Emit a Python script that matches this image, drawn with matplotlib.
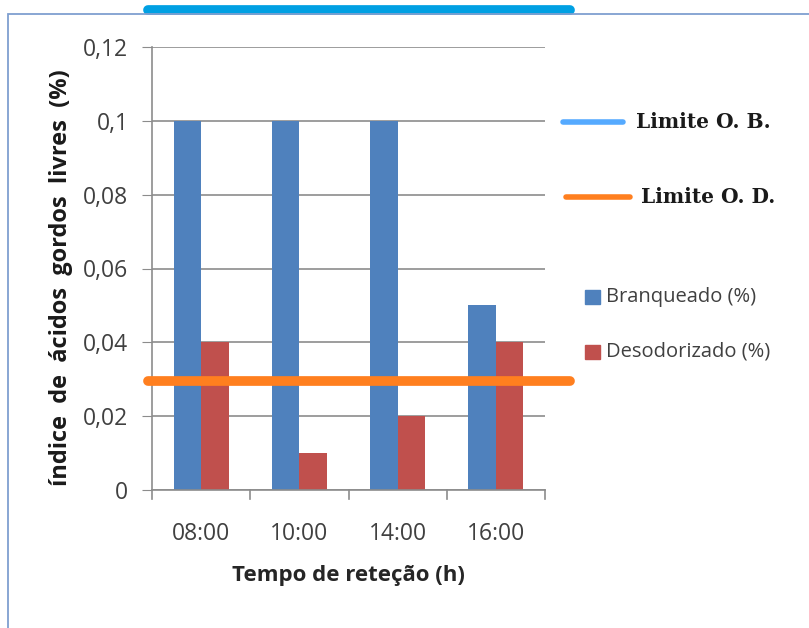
import matplotlib
matplotlib.use("Agg")
import matplotlib.pyplot as plt
from matplotlib.lines import Line2D
from matplotlib.patches import Rectangle

# Data
categories = ["08:00", "10:00", "14:00", "16:00"]
branqueado = [0.10, 0.10, 0.10, 0.05]
desodorizado = [0.04, 0.01, 0.02, 0.04]
limite_ob = 0.13
limite_od = 0.0295
y_ticks = [0, 0.02, 0.04, 0.06, 0.08, 0.10, 0.12]
y_tick_labels = ["0", "0,02", "0,04", "0,06", "0,08", "0,1", "0,12"]

plt.rcParams["font.family"] = ["Open Sans", "DejaVu Sans"]
text_gray = "#404040"

fig = plt.figure(figsize=(8.09, 6.28), dpi=100)
ax = fig.add_axes([152 / 809, 1 - 490 / 628, (545 - 152) / 809, (490 - 47) / 628])

# Outer chart frame
frame = Rectangle((8 / 809, -0.05), 1.1, 1 - 14 / 628 + 0.05, transform=fig.transFigure,
                  fill=False, edgecolor="#7f9fd0", linewidth=1.3, zorder=0)
fig.patches.append(frame)

x = list(range(len(categories)))
w = 0.28
ax.bar([i - w / 2 for i in x], branqueado, width=w, color="#4f81bd", zorder=2)
ax.bar([i + w / 2 for i in x], desodorizado, width=w, color="#c0504d", zorder=2)

ax.set_xlim(-0.5, 3.5)
ax.set_ylim(0, 0.12)
ax.set_yticks(y_ticks)
ax.set_yticklabels(y_tick_labels, color=text_gray, fontsize=16.5)
ax.set_xticks(x)
ax.set_xticklabels(categories, color=text_gray, fontsize=16.5)
ax.tick_params(axis="x", length=0, pad=23)
ax.tick_params(axis="y", length=7, color="#8c8c8c", pad=10)
for b in [-0.5, 0.5, 1.5, 2.5, 3.5]:
    ax.plot([b, b], [0, -0.0025], color="#8c8c8c", lw=1.2, clip_on=False, zorder=3)

ax.grid(axis="y", color="#8c8c8c", lw=1.2, zorder=1)
for s in ["top", "right"]:
    ax.spines[s].set_visible(False)
for s in ["left", "bottom"]:
    ax.spines[s].set_color("#8c8c8c")
    ax.spines[s].set_linewidth(1.2)

# Limit lines
ax.plot([-0.54, 3.75], [limite_od, limite_od], color="#ff7f1f", lw=7,
        solid_capstyle="round", clip_on=False, zorder=4)
ax.plot([-0.54, 3.75], [limite_ob, limite_ob], color="#00a0e3", lw=7,
        solid_capstyle="round", clip_on=False, zorder=4)

ax.set_xlabel("Tempo de reteção (h)", fontsize=16, fontweight="bold", color="#262626", labelpad=14)
ax.set_ylabel("índice  de  ácidos  gordos  livres  (%)", fontsize=17, fontweight="bold",
              color="#1a1a1a")
ax.yaxis.set_label_coords(-0.2, 0.48)

# Legend for limit lines
def fy(py):
    return 1 - py / 628

fig.add_artist(Line2D([563 / 809, 623 / 809], [fy(122), fy(122)], color="#55aaff", lw=4,
                      solid_capstyle="round"))
fig.text(636 / 809, fy(122), "Limite O. B.", fontsize=14.5, fontweight="bold",
         family="DejaVu Serif", va="center", color="#1a1a1a")
fig.add_artist(Line2D([566 / 809, 630 / 809], [fy(197), fy(197)], color="#ff7f1f", lw=4,
                      solid_capstyle="round"))
fig.text(641 / 809, fy(197), "Limite O. D.", fontsize=14.5, fontweight="bold",
         family="DejaVu Serif", va="center", color="#1a1a1a")

# Legend for bar series
for py, col, lab in [(297, "#4f81bd", "Branqueado (%)"), (352, "#c0504d", "Desodorizado (%)")]:
    fig.patches.append(Rectangle((585 / 809, fy(py) - 7 / 628), 15 / 809, 14 / 628,
                                 transform=fig.transFigure, color=col))
    fig.text(606 / 809, fy(py), lab, fontsize=14.5, va="center", color=text_gray)

fig.savefig("out.png", dpi=100)
